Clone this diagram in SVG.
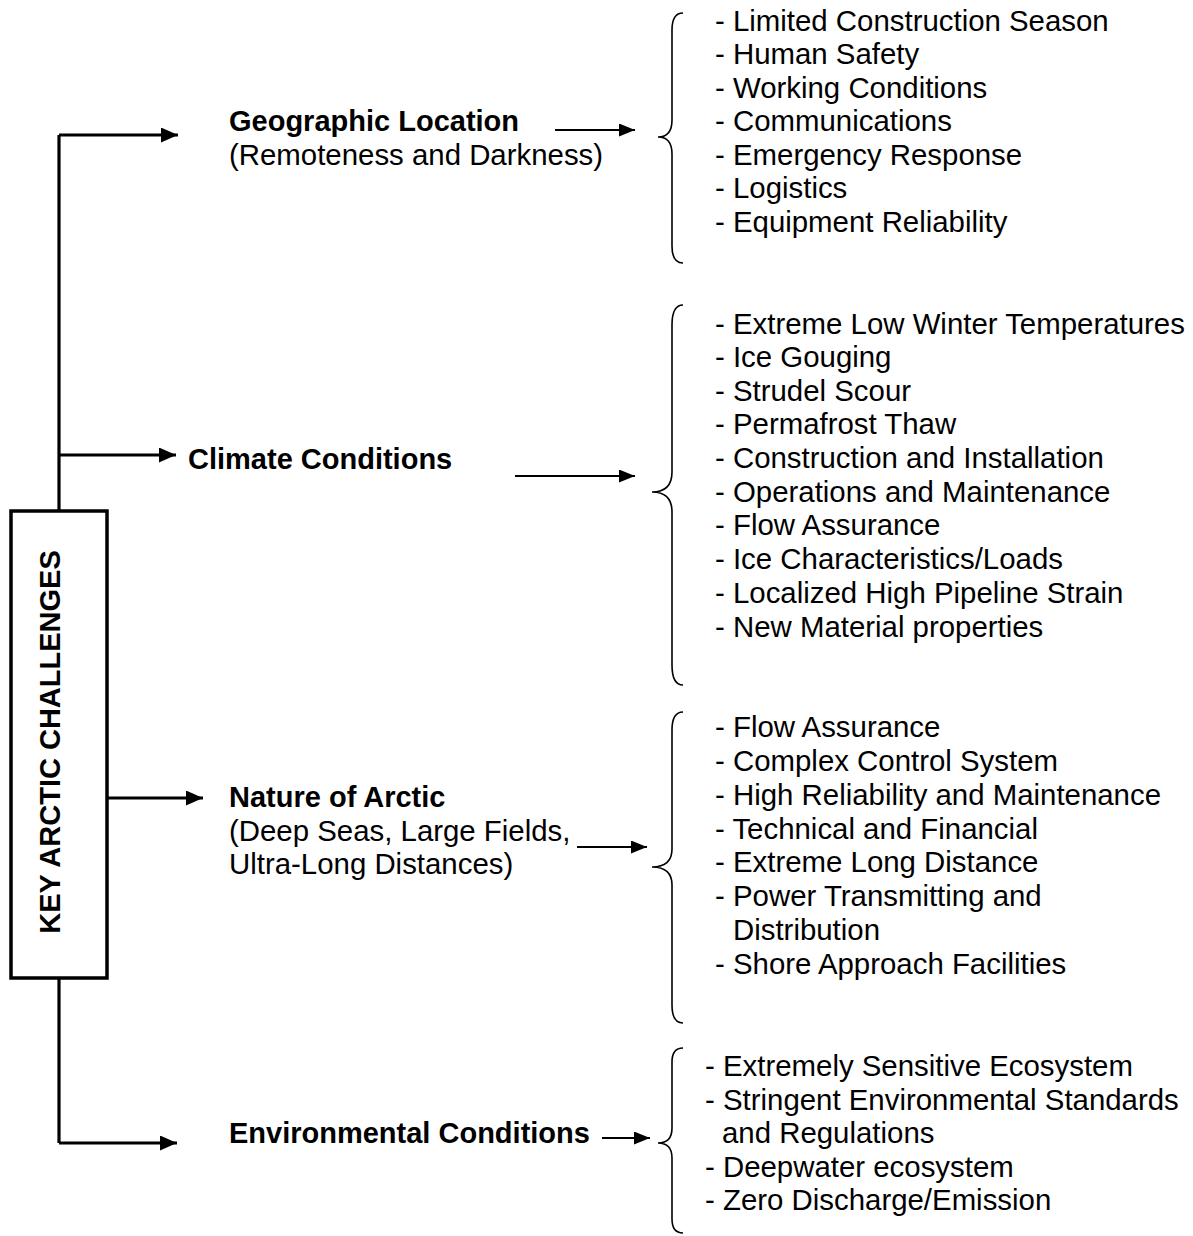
<svg xmlns="http://www.w3.org/2000/svg" width="1193" height="1236" viewBox="0 0 1193 1236">
<defs>
<marker id="ah" markerWidth="17" markerHeight="15" refX="17" refY="7.5" orient="auto" markerUnits="userSpaceOnUse"><path d="M0,0 L17,7.5 L0,15 Z" fill="#000"/></marker>
<marker id="ah2" markerWidth="16" markerHeight="13" refX="16" refY="6.5" orient="auto" markerUnits="userSpaceOnUse"><path d="M0,0 L16,6.5 L0,13 Z" fill="#000"/></marker>
</defs>
<style>
text{font-family:"Liberation Sans",Arial,sans-serif;font-size:29.4px;fill:#000}
.b{font-weight:bold;font-size:29px}
.tree{stroke:#000;stroke-width:3.2;fill:none}
.arr{stroke:#000;stroke-width:2;fill:none}
.brace{stroke:#000;stroke-width:1.6;fill:none}
</style>
<rect width="1193" height="1236" fill="#fff"/>
<g id="connectors">
<path class="tree" d="M59,135 L59,511"/>
<path class="tree" d="M59,978 L59,1143"/>
<path class="tree" d="M59,135 L178,135" marker-end="url(#ah)"/>
<path class="tree" d="M59,455 L176,455" marker-end="url(#ah)"/>
<path class="tree" d="M107,798 L203,798" marker-end="url(#ah)"/>
<path class="tree" d="M59,1143 L177,1143" marker-end="url(#ah)"/>
<path class="arr" d="M555,130 L635,130" marker-end="url(#ah2)"/>
<path class="arr" d="M515,476 L635,476" marker-end="url(#ah2)"/>
<path class="arr" d="M577,847 L647,847" marker-end="url(#ah2)"/>
<path class="arr" d="M602,1138 L650,1138" marker-end="url(#ah2)"/>
</g>
<g id="root">
<rect x="11" y="511" width="96" height="467" fill="#fff" stroke="#000" stroke-width="3.5"/>
<text class="b" transform="translate(60,742) rotate(-90)" text-anchor="middle">KEY ARCTIC CHALLENGES</text>
</g>
<g id="geo">
<text class="b" x="229" y="131">Geographic Location</text>
<text x="229" y="165">(Remoteness and Darkness)</text>
</g>
<g id="climate">
<text class="b" x="188" y="469">Climate Conditions</text>
</g>
<g id="nature">
<text class="b" x="229" y="807">Nature of Arctic</text>
<text x="229" y="841">(Deep Seas, Large Fields,</text>
<text x="229" y="874">Ultra-Long Distances)</text>
</g>
<g id="env">
<text class="b" x="229" y="1143">Environmental Conditions</text>
</g>
<g id="geo-list">
<path class="brace" d="M683,13 Q672,13 672,30 L672,120 Q672,137 658,137 Q672,137 672,154 L672,246 Q672,263 683,263"/>
<text x="715" y="31">- Limited Construction Season</text>
<text x="715" y="64">- Human Safety</text>
<text x="715" y="98">- Working Conditions</text>
<text x="715" y="131">- Communications</text>
<text x="715" y="165">- Emergency Response</text>
<text x="715" y="198">- Logistics</text>
<text x="715" y="232">- Equipment Reliability</text>
</g>
<g id="climate-list">
<path class="brace" d="M683,305 Q672,305 672,325 L672,472 Q672,492 652,492 Q672,492 672,512 L672,665 Q672,685 683,685"/>
<text x="715" y="334">- Extreme Low Winter Temperatures</text>
<text x="715" y="367">- Ice Gouging</text>
<text x="715" y="401">- Strudel Scour</text>
<text x="715" y="434">- Permafrost Thaw</text>
<text x="715" y="468">- Construction and Installation</text>
<text x="715" y="502">- Operations and Maintenance</text>
<text x="715" y="535">- Flow Assurance</text>
<text x="715" y="569">- Ice Characteristics/Loads</text>
<text x="715" y="603">- Localized High Pipeline Strain</text>
<text x="715" y="637">- New Material properties</text>
</g>
<g id="nature-list">
<path class="brace" d="M683,712 Q672,712 672,730 L672,849 Q672,867 652,867 Q672,867 672,885 L672,1005 Q672,1023 683,1023"/>
<text x="715" y="737">- Flow Assurance</text>
<text x="715" y="771">- Complex Control System</text>
<text x="715" y="805">- High Reliability and Maintenance</text>
<text x="715" y="839">- Technical and Financial</text>
<text x="715" y="872">- Extreme Long Distance</text>
<text x="715" y="906">- Power Transmitting and</text>
<text x="733" y="940">Distribution</text>
<text x="715" y="974">- Shore Approach Facilities</text>
</g>
<g id="env-list">
<path class="brace" d="M683,1048 Q672,1048 672,1062 L672,1128 Q672,1143 658,1143 Q672,1143 672,1158 L672,1219 Q672,1233 683,1233"/>
<text x="705" y="1076">- Extremely Sensitive Ecosystem</text>
<text x="705" y="1110">- Stringent Environmental Standards</text>
<text x="722" y="1143">and Regulations</text>
<text x="705" y="1177">- Deepwater ecosystem</text>
<text x="705" y="1210">- Zero Discharge/Emission</text>
</g>
</svg>
